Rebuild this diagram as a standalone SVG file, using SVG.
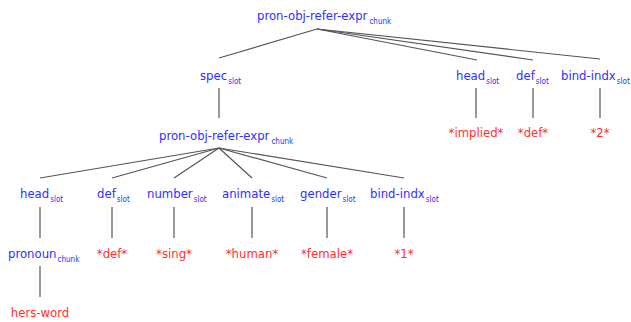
<svg xmlns="http://www.w3.org/2000/svg" width="631" height="322" viewBox="0 0 631 322">
<style>
text{font-family:"DejaVu Sans Condensed","Liberation Sans Narrow","DejaVu Sans",sans-serif;font-size:13px}
.n{fill:#2f2fff}
.v{fill:#ff2f2f;text-anchor:middle}
.s{font-size:8px}
.e line{stroke:#555;stroke-width:1.2}
</style>
<rect width="631" height="322" fill="#fff"/>
<g class="e" id="connectors">
<line x1="317" y1="29" x2="219" y2="58"/>
<line x1="317" y1="29" x2="477" y2="60"/>
<line x1="317" y1="29" x2="533" y2="60"/>
<line x1="317" y1="29" x2="600" y2="59"/>
<line x1="219" y1="88" x2="219" y2="118"/>
<line x1="476" y1="88" x2="476" y2="118"/>
<line x1="533" y1="88" x2="533" y2="118"/>
<line x1="600" y1="88" x2="600" y2="118"/>
<line x1="219" y1="148" x2="40" y2="178"/>
<line x1="219" y1="148" x2="112" y2="178"/>
<line x1="219" y1="148" x2="174" y2="178"/>
<line x1="219" y1="148" x2="252" y2="178"/>
<line x1="219" y1="148" x2="327" y2="178"/>
<line x1="219" y1="148" x2="404" y2="178"/>
<line x1="40" y1="207" x2="40" y2="238"/>
<line x1="112" y1="207" x2="112" y2="238"/>
<line x1="174" y1="207" x2="174" y2="238"/>
<line x1="252" y1="207" x2="252" y2="238"/>
<line x1="327" y1="207" x2="327" y2="238"/>
<line x1="404" y1="207" x2="404" y2="238"/>
<line x1="40" y1="266" x2="40" y2="297"/>
</g>
<g id="root"><text class="n" x="257" y="20">pron-obj-refer-expr<tspan class="s" dx="2" dy="4">chunk</tspan></text></g>
<g id="spec"><text class="n" x="200" y="80">spec<tspan class="s" dx="1" dy="4">slot</tspan></text></g>
<g id="head1"><text class="n" x="456" y="80">head<tspan class="s" dx="1" dy="4">slot</tspan></text></g>
<g id="def1"><text class="n" x="516" y="80">def<tspan class="s" dx="1" dy="4">slot</tspan></text></g>
<g id="bind1"><text class="n" x="561" y="80">bind-indx<tspan class="s" dx="1" dy="4">slot</tspan></text></g>
<g id="implied"><text class="v" x="476" y="137">*implied*</text></g>
<g id="defv1"><text class="v" x="533" y="137">*def*</text></g>
<g id="two"><text class="v" x="600" y="137">*2*</text></g>
<g id="mid"><text class="n" x="159" y="140">pron-obj-refer-expr<tspan class="s" dx="2" dy="4">chunk</tspan></text></g>
<g id="head2"><text class="n" x="20" y="198">head<tspan class="s" dx="1" dy="4">slot</tspan></text></g>
<g id="def2"><text class="n" x="97" y="198">def<tspan class="s" dx="1" dy="4">slot</tspan></text></g>
<g id="number"><text class="n" x="147" y="198">number<tspan class="s" dx="1" dy="4">slot</tspan></text></g>
<g id="animate"><text class="n" x="222" y="198">animate<tspan class="s" dx="1" dy="4">slot</tspan></text></g>
<g id="gender"><text class="n" x="300" y="198">gender<tspan class="s" dx="1" dy="4">slot</tspan></text></g>
<g id="bind2"><text class="n" x="370" y="198">bind-indx<tspan class="s" dx="1" dy="4">slot</tspan></text></g>
<g id="pronoun"><text class="n" x="8" y="258">pronoun<tspan class="s" dx="1" dy="4">chunk</tspan></text></g>
<g id="defv2"><text class="v" x="112" y="258">*def*</text></g>
<g id="sing"><text class="v" x="174" y="258">*sing*</text></g>
<g id="human"><text class="v" x="252" y="258">*human*</text></g>
<g id="female"><text class="v" x="327" y="258">*female*</text></g>
<g id="one"><text class="v" x="404" y="258">*1*</text></g>
<g id="hers"><text class="v" x="40" y="317">hers-word</text></g>
</svg>
